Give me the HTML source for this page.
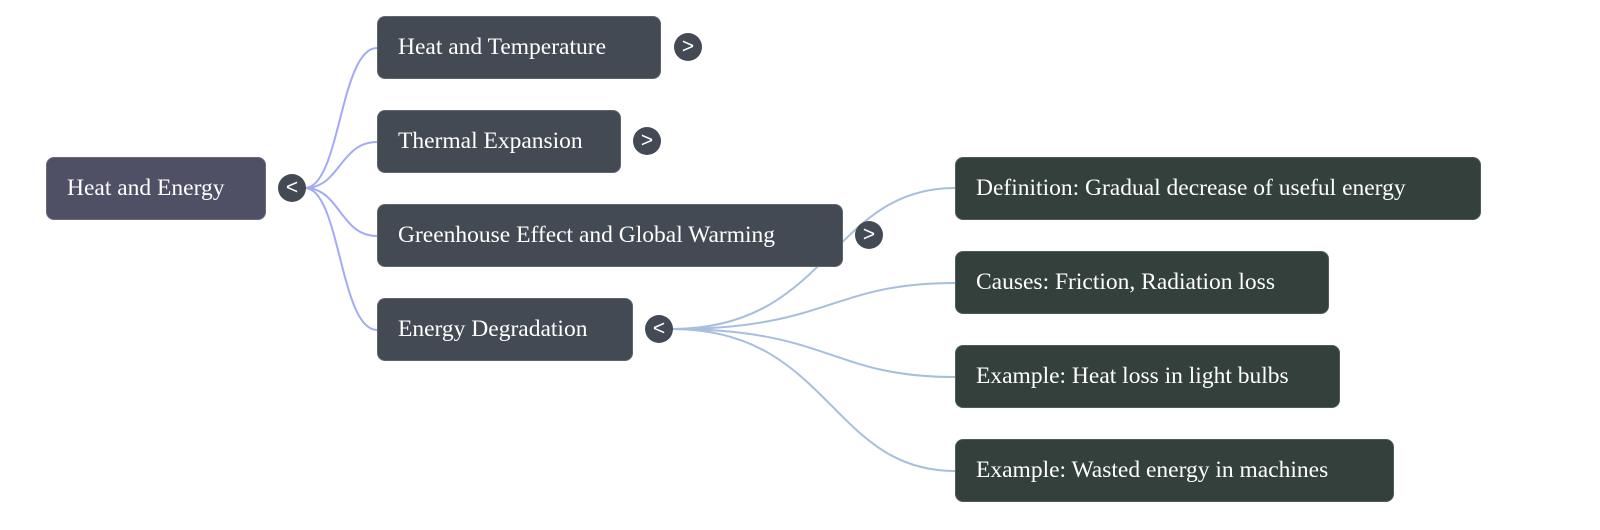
<!DOCTYPE html>
<html><head><style>
body{margin:0;width:1600px;height:530px;background:#fff;position:relative;overflow:hidden;font-family:"Liberation Serif",serif}
.n{position:absolute;height:63px;border-radius:8px;color:#fff;font-size:23.5px;line-height:61px;padding-left:20px;box-sizing:border-box;border:1px solid rgba(255,255,255,0.15);white-space:nowrap}
.r{background:#4f5066}.c{background:#434a54}.g{background:#33403b}
.t{position:absolute;width:28px;height:28px;border-radius:50%;background:#434a54;color:#fff;font-family:"Liberation Sans",sans-serif;font-size:21px;line-height:27px;text-align:center}
svg{position:absolute;left:0;top:0}
</style></head><body>
<svg width="1600" height="530" fill="none">
<g stroke="#a3aaf6" stroke-width="2">
<path d="M305 188 C340 188 340 48 377 48"/>
<path d="M305 188 C340 188 340 142 377 142"/>
<path d="M305 188 C340 188 340 236 377 236"/>
<path d="M305 188 C340 188 340 330 377 330"/>
</g>
<g stroke="#a7bede" stroke-width="2">
<path d="M672 329 C830 329 830 188 955 188"/>
<path d="M672 329 C830 329 830 283 955 283"/>
<path d="M672 329 C830 329 830 377 955 377"/>
<path d="M672 329 C830 329 830 471 955 471"/>
</g>
</svg>
<div class="n r" style="left:46px;top:157px;width:220px">Heat and Energy</div>
<div class="t" style="left:278px;top:174px">&lt;</div>
<div class="n c" style="left:377px;top:16px;width:284px">Heat and Temperature</div>
<div class="t" style="left:674px;top:33px">&gt;</div>
<div class="n c" style="left:377px;top:110px;width:244px">Thermal Expansion</div>
<div class="t" style="left:633px;top:127px">&gt;</div>
<div class="n c" style="left:377px;top:204px;width:466px">Greenhouse Effect and Global Warming</div>
<div class="t" style="left:855px;top:221px">&gt;</div>
<div class="n c" style="left:377px;top:298px;width:256px">Energy Degradation</div>
<div class="t" style="left:645px;top:315px">&lt;</div>
<div class="n g" style="left:955px;top:157px;width:526px">Definition: Gradual decrease of useful energy</div>
<div class="n g" style="left:955px;top:251px;width:374px">Causes: Friction, Radiation loss</div>
<div class="n g" style="left:955px;top:345px;width:385px">Example: Heat loss in light bulbs</div>
<div class="n g" style="left:955px;top:439px;width:439px">Example: Wasted energy in machines</div>
</body></html>
